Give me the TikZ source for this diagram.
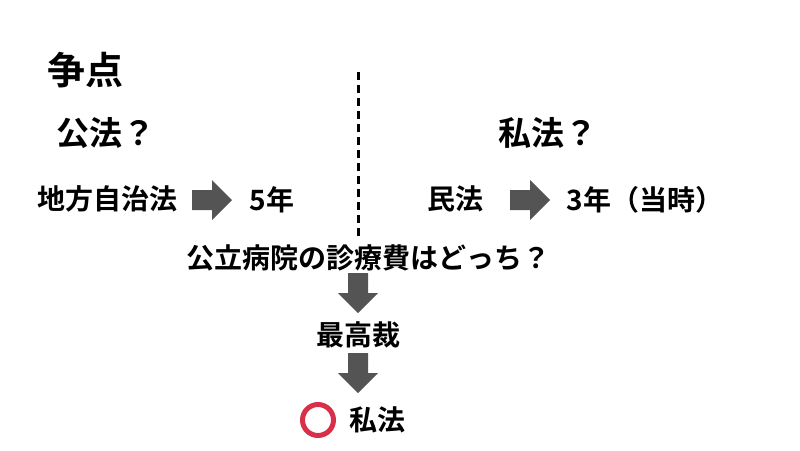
\documentclass[tikz,border=0pt]{standalone}
\usepackage{fontspec}
\setmainfont{Noto Sans CJK JP}[BoldFont={* Bold}]
\definecolor{okred}{HTML}{D9304A}
\tikzset{
 lbl/.style={font=\bfseries\fontsize{28}{32}\selectfont, inner sep=0pt},
 big/.style={font=\bfseries\fontsize{33}{38}\selectfont, inner sep=0pt},
 blockarrow/.style={fill=black!67, draw=none},
}
\newcommand{\barrow}[2]{%
 \begin{scope}[shift={#1}, rotate=#2]
 \fill[blockarrow] (-20,-10) -- (0,-10) -- (0,-20) -- (20,0) -- (0,20) -- (0,10) -- (-20,10) -- cycle;
 \end{scope}}
\begin{document}
\begin{tikzpicture}[x=1pt,y=-1pt]
\useasboundingbox (0,0) rectangle (800,450);
\node[font=\bfseries\fontsize{38}{42}\selectfont, inner sep=0pt] (issue) at (85,70) {争点};
\node[big] (pub) at (106,133) {公法？};
\node[big] (priv) at (548,133) {私法？};
\node[lbl] (local) at (107,199) {地方自治法};
\barrow{(212,200)}{0}
\node[lbl] (five) at (272,200) {5年};
\node[lbl] (civil) at (455,199) {民法};
\barrow{(530,200)}{0}
\node[lbl] (three) at (645,200) {3年（当時）};
\coordinate (dtop) at (358,72);
\coordinate (dbot) at (358,238);
\draw[line width=3pt, dash pattern=on 8pt off 5pt] (dtop) -- (dbot);
\node[lbl] (q) at (368,258) {公立病院の診療費はどっち？};
\barrow{(358,293)}{-90}
\node[lbl] (sc) at (358,335) {最高裁};
\barrow{(358,373)}{-90}
\node[draw=okred, line width=5pt, circle, minimum size=31pt, inner sep=0pt] (ok) at (318,420) {};
\node[lbl] (ans) at (377,420) {私法};
\end{tikzpicture}
\end{document}
